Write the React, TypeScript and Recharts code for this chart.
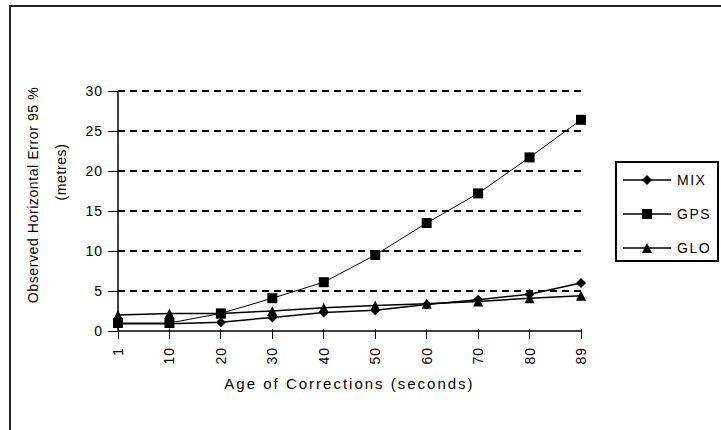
import React from 'react';
import { LineChart, Line, XAxis, YAxis, CartesianGrid, Label } from 'recharts';

const ages = ['1', '10', '20', '30', '40', '50', '60', '70', '80', '89'];
const mix = [0.9, 0.9, 1.1, 1.7, 2.3, 2.6, 3.3, 3.9, 4.6, 6.0];
const gps = [1.0, 1.0, 2.2, 4.1, 6.1, 9.5, 13.5, 17.2, 21.7, 26.4];
const glo = [2.0, 2.2, 2.2, 2.5, 2.9, 3.2, 3.4, 3.7, 4.1, 4.4];
const yTicks = [0, 5, 10, 15, 20, 25, 30];

const data = ages.map((age, i) => ({ age, MIX: mix[i], GPS: gps[i], GLO: glo[i] }));

const FONT = '"Liberation Sans", Arial, sans-serif';

const Diamond = (props: any) => {
	const { cx, cy } = props;
	if (cx == null || cy == null) return null;
	return <polygon points={`${cx},${cy - 5} ${cx + 5},${cy} ${cx},${cy + 5} ${cx - 5},${cy}`} fill="#000" />;
};

const Square = (props: any) => {
	const { cx, cy } = props;
	if (cx == null || cy == null) return null;
	return <rect x={cx - 5} y={cy - 5} width={10} height={10} fill="#000" />;
};

const Triangle = (props: any) => {
	const { cx, cy } = props;
	if (cx == null || cy == null) return null;
	return <polygon points={`${cx},${cy - 5} ${cx + 5},${cy + 5} ${cx - 5},${cy + 5}`} fill="#000" />;
};

const XTick = (props: any) => {
	const { x, y, payload } = props;
	return (
		<g>
			<line x1={x} y1={y - 10} x2={x} y2={y} stroke="#000" shapeRendering="crispEdges" />
			<text x={x} y={y + 8} transform={`rotate(-90 ${x} ${y + 8})`} textAnchor="end" dominantBaseline="central"
				fontSize={14} letterSpacing={1} fontFamily={FONT} fill="#000">
				{payload.value}
			</text>
		</g>
	);
};

const YTick = (props: any) => {
	const { x, y, payload } = props;
	return (
		<g>
			<line x1={x + 5} y1={y} x2={x + 15} y2={y} stroke="#000" shapeRendering="crispEdges" />
			<text x={x} y={y} textAnchor="end" dominantBaseline="central" fontSize={14} letterSpacing={1} fontFamily={FONT} fill="#000">
				{payload.value}
			</text>
		</g>
	);
};

const legendItems = [
	{ name: 'MIX', Mark: Diamond },
	{ name: 'GPS', Mark: Square },
	{ name: 'GLO', Mark: Triangle },
];

const App = () => {
	return (
		<div style={{ position: 'absolute', left: 0, top: 0, width: 721, height: 430, background: '#fff' }}>
			<div style={{ position: 'absolute', left: 9, top: 5, width: 712, height: 425, borderTop: '2px solid #222', borderLeft: '2px solid #222' }} />
			<LineChart width={721} height={430} data={data} margin={{ top: 91, right: 140, bottom: 49, left: 68 }}>
				<CartesianGrid vertical={false} stroke="#000" strokeWidth={1.5} strokeDasharray="7 5" shapeRendering="crispEdges"
					horizontalValues={[5, 10, 15, 20, 25, 30]} />
				<XAxis dataKey="age" height={50} axisLine={{ stroke: '#000', strokeWidth: 1.5 }} tickLine={false}
					tick={<XTick />} interval={0} padding={{ left: 0, right: 0 }}>
					<Label value="Age of Corrections (seconds)" position="insideBottom" offset={-8}
						style={{ fontSize: 15, letterSpacing: 2, fontFamily: FONT, fill: '#000' }} />
				</XAxis>
				<YAxis width={50} domain={[0, 30]} ticks={yTicks} interval={0} axisLine={{ stroke: '#000', strokeWidth: 1.5 }}
					tickLine={false} tickSize={5} tickMargin={10} tick={<YTick />}
					label={{
						content: () => (
							<g fontSize={14} fontFamily={FONT} fill="#000" letterSpacing={0.6}>
								<text x={33} y={195} transform="rotate(-90 33 195)" textAnchor="middle" dominantBaseline="central">
									Observed Horizontal Error 95 %
								</text>
								<text x={61} y={172} transform="rotate(-90 61 172)" textAnchor="middle" dominantBaseline="central">
									(metres)
								</text>
							</g>
						),
					}} />
				<Line dataKey="MIX" stroke="#000" strokeWidth={1.5} dot={<Diamond />} isAnimationActive={false} />
				<Line dataKey="GPS" stroke="#000" strokeWidth={1} dot={<Square />} isAnimationActive={false} />
				<Line dataKey="GLO" stroke="#000" strokeWidth={1.5} dot={<Triangle />} isAnimationActive={false} />
			</LineChart>
			<div style={{ position: 'absolute', left: 615, top: 161, width: 104, height: 101, border: '2px solid #000', boxSizing: 'border-box' }}>
				<svg width={100} height={97}>
					{legendItems.map((it, i) => {
						const y = 17 + i * 34;
						return (
							<g key={it.name}>
								<line x1={6} y1={y} x2={54} y2={y} stroke="#000" strokeWidth={1.5} />
								<it.Mark cx={30} cy={y} />
								<text x={60} y={y} dominantBaseline="central" fontSize={14} letterSpacing={1.5} fontFamily={FONT} fill="#000">{it.name}</text>
							</g>
						);
					})}
				</svg>
			</div>
		</div>
	);
};

export default App;
